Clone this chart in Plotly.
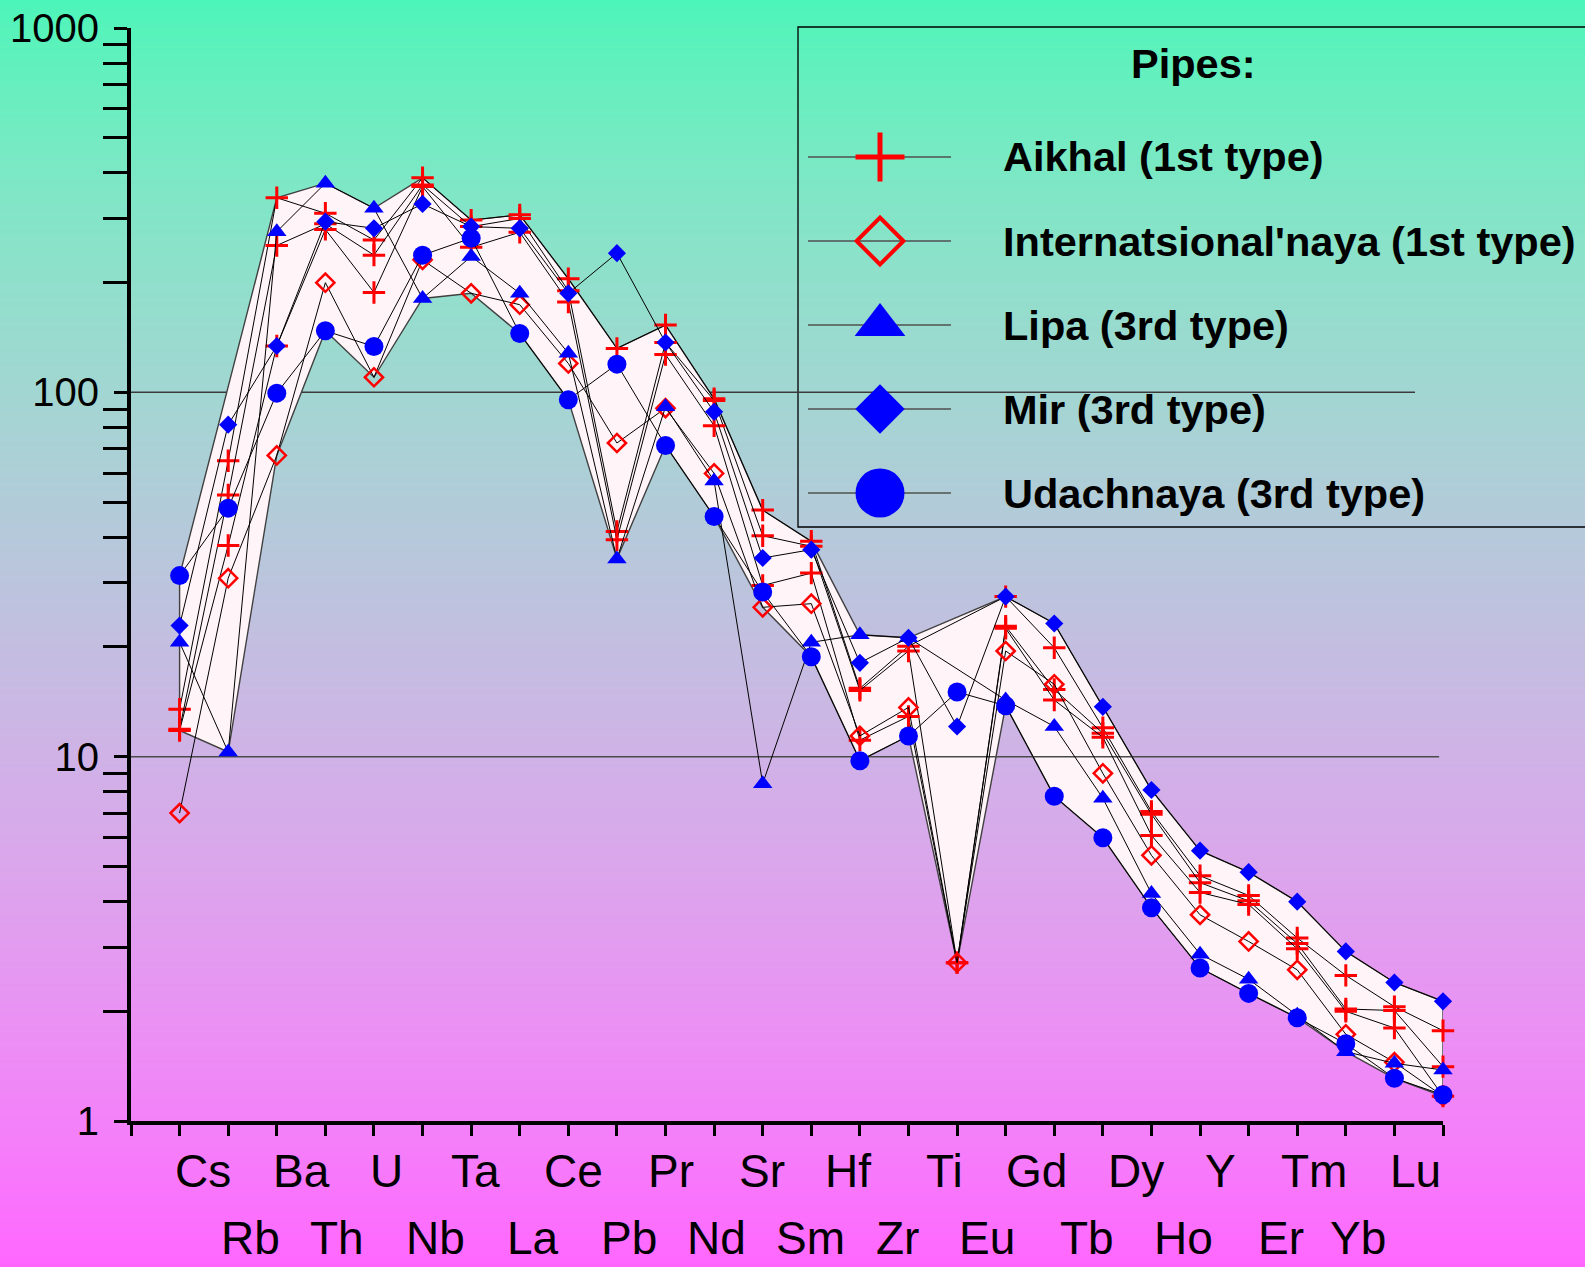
import base64
import struct
import zlib

import plotly.graph_objects as go

# ---------------------------------------------------------------- data
elements = ["Cs", "Rb", "Ba", "Th", "U", "Nb", "Ta", "La", "Ce", "Pb", "Pr", "Nd",
            "Sr", "Sm", "Hf", "Zr", "Ti", "Eu", "Gd", "Tb", "Dy", "Ho", "Y", "Er",
            "Tm", "Yb", "Lu"]

aikhal_1 = [13.5, 64.9, 342, 310, 262, 388, 297, 307, 205, 132, 153, 96, 47.5, 39,
            15.4, 20.1, None, 27.5, 19.9, 12.0, 7.07, 4.71, 4.16, 3.18, 2.51, 2.06, 1.77]
aikhal_2 = [11.9, 52.3, 253, 290, 238, 371, 285, 300, 190, 41.5, 137, 95, 40.4, 37.8,
            15.2, 19.5, 2.72, 22.8, 15.3, 11.6, 6.95, 4.51, 4.02, 3.07, 2.03, 2.01, 1.41]
aikhal_3 = [11.8, 38.0, 134, 280, 188, 367, 250, 275, 177, 39.4, 127, 81, 29.5, 31.9,
            11.1, 12.9, 2.72, 22.5, 14.3, 11.3, 6.08, 4.24, 3.93, 2.97, 2.00, 1.80, 1.17]
internatsionalnaya = [7.0, 30.9, 67.1, 200, 110, 231, 187, 174, 120, 72.6, 90.5, 59.9,
                      25.7, 26.3, 11.4, 13.65, 2.72, 19.5, 15.8, 9.0, 5.36, 3.68, 3.11,
                      2.60, 1.73, 1.45, 1.17]
lipa = [20.6, 10.3, 276, 375, 320, 181, 236, 187, 128, 34.9, 91.3, 57.1, 8.43, 20.6,
        21.6, 21.2, None, 14.3, 12.1, 7.69, 4.21, 2.87, 2.45, 1.95, 1.55, 1.44, 1.38]
mir = [22.9, 81.5, 134, 294, 282, 329, 285, 282, 187, 241, 137, 88.4, 35.1, 37, 18.1,
       21.2, 12.1, 27.5, 23.2, 13.7, 8.1, 5.52, 4.82, 4.0, 2.92, 2.40, 2.13]
udachnaya = [31.4, 48.1, 99.5, 147.5, 133.6, 238, 265, 145, 95.4, 119.5, 71.5, 45.6,
             28.3, 18.8, 9.75, 11.4, 15.05, 13.8, 7.79, 5.99, 3.85, 2.63, 2.24, 1.92,
             1.63, 1.31, 1.18]

# shaded field of compositions (upper / lower bounds; None = no vertex)
field_upper = [31.4, None, 342, 375, 320, 388, 297, 307, 205, 132, 153, 96, 47.5, 39,
               21.6, 21.2, None, 27.5, 23.2, 13.7, 8.1, 5.52, 4.82, 4.0, 2.92, 2.40, 2.13]
field_lower = [11.8, 10.3, 67.1, 147.5, 110, 181, 187, 145, 95.4, 34.9, 71.5, 45.6,
               25.7, 18.8, 9.75, 11.4, 2.72, 13.8, 7.79, 5.99, 3.85, 2.63, 2.24, 1.92,
               1.55, 1.31, 1.17]

legend_names = ["Aikhal (1st type)", "Internatsional'naya (1st type)", "Lipa (3rd type)",
                "Mir (3rd type)", "Udachnaya (3rd type)"]

y_tick_values = [1, 10, 100, 1000]
y_tick_text = ["1", "10", "100", "1000"]

# ---------------------------------------------------------------- geometry
FIG_W, FIG_H = 1585, 1267
L, T, W, H = 131, 28, 1312, 1093
FONT = "Liberation Sans, Arial, sans-serif"
RED, BLUE = "#FF0000", "#0000FF"


def px_x(p):
    return (p - L) / W


def px_y(p):
    return (T + H - p) / H


xs = list(range(1, len(elements) + 1))

# ---------------------------------------------------------------- background gradient


def gradient_png(height, top, bottom):
    def to_lin(c):
        c = c / 255.0
        return c / 12.92 if c <= 0.04045 else ((c + 0.055) / 1.055) ** 2.4

    def to_srgb(v):
        v = 12.92 * v if v <= 0.0031308 else 1.055 * v ** (1 / 2.4) - 0.055
        return max(0, min(255, round(v * 255)))

    raw = bytearray()
    for r in range(height):
        t = r / (height - 1)
        pix = bytes(to_srgb(to_lin(a) * (1 - t) + to_lin(b) * t) for a, b in zip(top, bottom))
        raw += b"\x00" + pix * 2

    def chunk(tag, data):
        c = struct.pack(">I", len(data)) + tag + data
        return c + struct.pack(">I", zlib.crc32(tag + data) & 0xFFFFFFFF)

    png = b"\x89PNG\r\n\x1a\n"
    png += chunk(b"IHDR", struct.pack(">IIBBBBB", 2, height, 8, 2, 0, 0, 0))
    png += chunk(b"IDAT", zlib.compress(bytes(raw), 9))
    png += chunk(b"IEND", b"")
    return "data:image/png;base64," + base64.b64encode(png).decode()


bg_src = gradient_png(FIG_H, (76, 245, 185), (255, 102, 255))

fig = go.Figure()

# ---------------------------------------------------------------- shaded field
up = [(x, v) for x, v in zip(xs, field_upper) if v is not None]
lo = [(x, v) for x, v in zip(xs, field_lower) if v is not None]
poly = up + lo[::-1]
fig.add_trace(go.Scatter(
    x=[p[0] for p in poly] + [poly[0][0]], y=[p[1] for p in poly] + [poly[0][1]],
    mode="lines", fill="toself", fillcolor="#FFF4F8",
    line=dict(color="#404040", width=1.4), hoverinfo="skip", showlegend=False,
    cliponaxis=False))

# reference line at 10 (drawn over the field)
fig.add_trace(go.Scatter(x=[0, 26.92], y=[10, 10], mode="lines",
                         line=dict(color="#4a4a4a", width=1.5),
                         hoverinfo="skip", showlegend=False))

# ---------------------------------------------------------------- sample series
series = [
    (aikhal_1, dict(symbol="cross-thin", size=16, color=RED, line=dict(color=RED, width=3))),
    (aikhal_2, dict(symbol="cross-thin", size=16, color=RED, line=dict(color=RED, width=3))),
    (aikhal_3, dict(symbol="cross-thin", size=16, color=RED, line=dict(color=RED, width=3))),
    (internatsionalnaya, dict(symbol="diamond-open", size=14, color=RED, line=dict(color=RED, width=2.5))),
    (lipa, dict(symbol="triangle-up", size=17, color=BLUE, line=dict(width=0))),
    (mir, dict(symbol="diamond", size=14, color=BLUE, line=dict(width=0))),
    (udachnaya, dict(symbol="circle", size=19, color=BLUE, line=dict(width=0))),
]
for values, mk in series:
    fig.add_trace(go.Scatter(x=xs, y=values, mode="lines+markers", connectgaps=True,
                             line=dict(color="black", width=1), marker=mk,
                             showlegend=False, cliponaxis=False))

# ---------------------------------------------------------------- legend (drawn on a pixel-space overlay)
legend_rows = [157, 241, 325, 409, 493]
legend_markers = [
    dict(symbol="cross-thin", size=35, color=RED, line=dict(color=RED, width=5)),
    dict(symbol="diamond-open", size=36, color=RED, line=dict(color=RED, width=4)),
    dict(symbol="triangle-up", size=44, color=BLUE, line=dict(width=0)),
    dict(symbol="diamond", size=38, color=BLUE, line=dict(width=0)),
    dict(symbol="circle", size=49, color=BLUE, line=dict(width=0)),
]
for yy, mk, name in zip(legend_rows, legend_markers, legend_names):
    fig.add_trace(go.Scatter(x=[808, 951], y=[yy, yy], mode="lines", xaxis="x2", yaxis="y2",
                             line=dict(color="#505050", width=1.5), hoverinfo="skip",
                             showlegend=False))
    fig.add_trace(go.Scatter(x=[880], y=[yy], mode="markers", xaxis="x2", yaxis="y2",
                             marker=mk, hoverinfo="skip", showlegend=False, cliponaxis=False))
    fig.add_annotation(x=px_x(1001), y=px_y(yy), xref="paper", yref="paper",
                       text=f"<b>{name}</b>", showarrow=False, xanchor="left",
                       yanchor="middle", font=dict(family=FONT, size=41.5, color="black"))

fig.add_annotation(x=px_x(1193), y=px_y(63), xref="paper", yref="paper",
                   text="<b>Pipes:</b>", showarrow=False, xanchor="center",
                   yanchor="middle", font=dict(family=FONT, size=41.5, color="black"))

fig.add_shape(type="rect", xref="paper", yref="paper", x0=px_x(798), x1=px_x(1620),
              y0=px_y(527), y1=px_y(27), line=dict(color="black", width=1.3),
              fillcolor="rgba(0,0,0,0)", layer="below")

# reference line at 100 (beneath the field)
fig.add_shape(type="line", xref="paper", yref="y", x0=0, x1=px_x(1415), y0=100, y1=100,
              line=dict(color="#3a3a3a", width=1.5), layer="below")

# ---------------------------------------------------------------- element labels (two staggered rows)
label_px = [203, 250, 301, 337, 386, 435, 475, 533, 573, 629, 671, 716, 762, 810,
            848, 897, 944, 987, 1036, 1087, 1136, 1183, 1220, 1281, 1314, 1358, 1415]
for i, (name, p) in enumerate(zip(elements, label_px)):
    row_y = 1171 if i % 2 == 0 else 1238
    fig.add_annotation(x=px_x(p), y=px_y(row_y), xref="paper", yref="paper", text=name,
                       showarrow=False, xanchor="center", yanchor="middle",
                       font=dict(family=FONT, size=46, color="black"))

minor_vals = [m * 10 ** d for d in range(3) for m in range(2, 10)]

fig.update_layout(
    width=FIG_W, height=FIG_H,
    margin=dict(l=L, r=FIG_W - L - W, t=T, b=FIG_H - T - H, autoexpand=False),
    paper_bgcolor="rgba(0,0,0,0)", plot_bgcolor="rgba(0,0,0,0)",
    images=[dict(source=bg_src, xref="paper", yref="paper", x=-L / W, y=1 + T / H,
                 sizex=FIG_W / W, sizey=FIG_H / H, sizing="stretch", xanchor="left",
                 yanchor="top", layer="below")],
    xaxis=dict(range=[0, 27], tickvals=list(range(28)), ticks="outside", ticklen=11,
               tickwidth=3, tickcolor="black", showticklabels=False, showline=True,
               linewidth=4, linecolor="black", showgrid=False, zeroline=False),
    yaxis=dict(type="log", range=[0, 3], tickvals=y_tick_values, ticktext=y_tick_text,
               ticks="outside", ticklen=13, tickwidth=3, tickcolor="black",
               ticklabelstandoff=7,
               tickfont=dict(family=FONT, size=40, color="black"),
               minor=dict(tickvals=minor_vals, ticks="outside", ticklen=24, tickwidth=3,
                          tickcolor="black", showgrid=False),
               showline=True, linewidth=4, linecolor="black", showgrid=False,
               zeroline=False),
    xaxis2=dict(range=[L, L + W], overlaying="x", visible=False, domain=[0, 1]),
    yaxis2=dict(range=[T + H, T], overlaying="y", visible=False, domain=[0, 1]),
    showlegend=False,
)

fig.write_html("out.html")
